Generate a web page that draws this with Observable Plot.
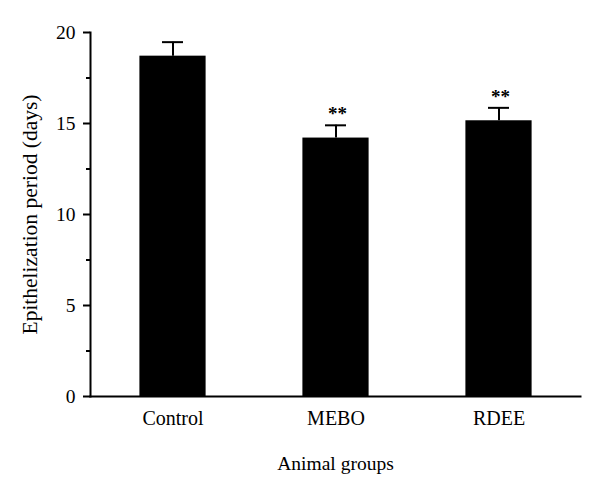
<!DOCTYPE html>
<html><head><meta charset="utf-8">
<script src="https://cdn.jsdelivr.net/npm/d3@7"></script>
<script src="https://cdn.jsdelivr.net/npm/@observablehq/plot@0.6"></script>
<style>body{margin:0;background:#fff}</style>
</head><body><div id="chart"></div>
<script>
const groups = ["Control", "MEBO", "RDEE"];
const means = [18.7, 14.2, 15.15];
const errors = [0.77, 0.7, 0.71];
const marks = ["", "**", "**"];
const majorTicks = [0, 5, 10, 15, 20];
const minorTicks = [2.5, 7.5, 12.5, 17.5];

const data = groups.map((g, i) => ({group: g, mean: means[i], err: errors[i], top: means[i] + errors[i], mark: marks[i]}));
const font = "Liberation Serif, DejaVu Serif, serif";

const chart = Plot.plot({
  width: 600, height: 497,
  marginLeft: 90, marginRight: 20, marginTop: 32, marginBottom: 101,
  style: {fontFamily: font, background: "#fff", color: "#000", fontSize: "19px"},
  x: {domain: groups, padding: 0},
  y: {domain: [0, 20]},
  marks: [
    Plot.barY(data, {x: "group", y: "mean", fill: "#000", insetLeft: 48.4, insetRight: 48.4}),
    Plot.ruleX(data, {x: "group", y1: "mean", y2: "top", stroke: "#000", strokeWidth: 2}),
    Plot.tickY(data, {x: "group", y: "top", stroke: "#000", strokeWidth: 2, insetLeft: 71, insetRight: 71}),
    Plot.text(data, {x: "group", y: "top", text: "mark", dy: -11, dx: 1.5, fontSize: 19, fontWeight: "bold", fill: "#000", letterSpacing: "3px"}),
    Plot.axisY({ticks: majorTicks, tickSize: 7, tickPadding: 8, fontSize: 19.5, strokeWidth: 2, label: null}),
    Plot.axisY({ticks: [], fontSize: 21.5, label: "Epithelization period (days)", labelAnchor: "center", labelArrow: "none", labelOffset: 69}),
    Plot.axisY({ticks: minorTicks, tickSize: 4, strokeWidth: 2, tickFormat: () => "", label: null}),
    Plot.axisX({tickSize: 0, tickPadding: 14, fontSize: 20, label: null}),
    Plot.axisX({ticks: [], fontSize: 19.5, label: "Animal groups", labelAnchor: "center", labelArrow: "none", labelOffset: 73}),
    Plot.frame({anchor: "left", stroke: "#000", strokeWidth: 2}),
    Plot.frame({anchor: "bottom", stroke: "#000", strokeWidth: 2})
  ]
});
document.getElementById("chart").append(chart);
</script>
</body></html>
